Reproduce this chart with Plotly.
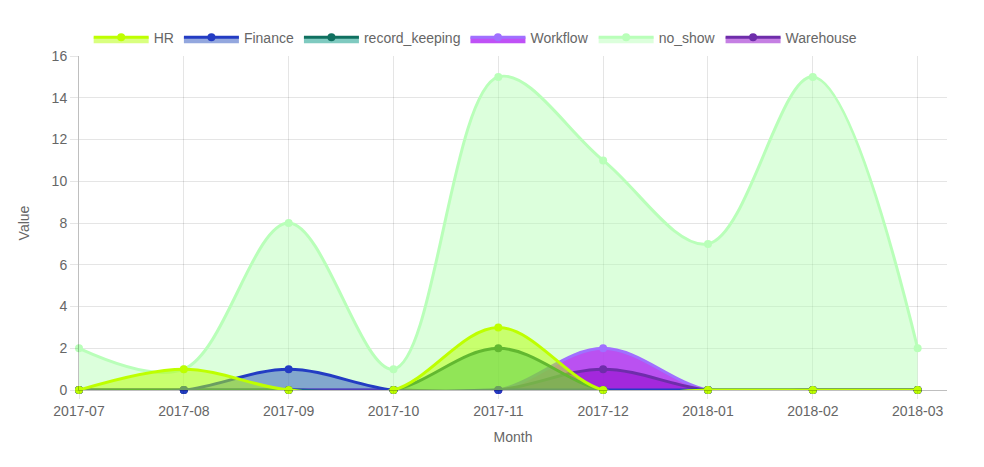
import plotly.graph_objects as go

months = ["2017-07", "2017-08", "2017-09", "2017-10", "2017-11", "2017-12", "2018-01", "2018-02", "2018-03"]
hr = [0, 1, 0, 0, 3, 0, 0, 0, 0]
finance = [0, 0, 1, 0, 0, 0, 0, 0, 0]
record_keeping = [0, 0, 0, 0, 2, 0, 0, 0, 0]
workflow = [0, 0, 0, 0, 0, 2, 0, 0, 0]
no_show = [2, 1, 8, 1, 15, 11, 7, 15, 2]
warehouse = [0, 0, 0, 0, 0, 1, 0, 0, 0]

# (name, values, line colour, fill colour, legend rank)
series = [
    ("no_show", no_show, "rgb(185,255,185)", "rgba(180,255,180,0.47)", 5),
    ("Workflow", workflow, "rgb(160,112,255)", "rgba(180,50,245,0.85)", 4),
    ("Warehouse", warehouse, "rgb(110,45,170)", "rgba(140,0,200,0.5)", 6),
    ("record_keeping", record_keeping, "rgb(16,112,96)", "rgba(0,150,130,0.5)", 3),
    ("Finance", finance, "rgb(35,60,195)", "rgba(40,80,190,0.5)", 2),
    ("HR", hr, "rgb(190,255,0)", "rgba(180,255,0,0.5)", 1),
]

fig = go.Figure()
for name, vals, lc, fc, rank in series:
    fig.add_trace(go.Scatter(
        x=months, y=vals, name=name, mode="lines+markers",
        line=dict(color=lc, width=3, shape="spline", smoothing=1.0),
        marker=dict(color=lc, size=8),
        fill="tozeroy", fillcolor=fc, cliponaxis=False,
        legendrank=rank,
    ))

font = dict(family="Liberation Sans, Arial, sans-serif", size=14, color="#666")
fig.update_layout(
    width=984, height=467,
    margin=dict(l=79, r=37, t=56, b=77),
    paper_bgcolor="white", plot_bgcolor="white",
    font=font,
    showlegend=True,
    legend=dict(orientation="h", x=0.457, xanchor="center", y=1.055, yanchor="middle",
                itemwidth=55, font=dict(size=14, color="#666"), traceorder="normal"),
    xaxis=dict(
        type="category", range=[0, 8.28],
        showgrid=True, gridcolor="rgba(0,0,0,0.1)", gridwidth=1,
        ticks="outside", ticklen=8, tickcolor="rgba(0,0,0,0.1)",
        showline=True, linecolor="rgba(0,0,0,0.25)",
        tickfont=dict(size=14, color="#666"),
        title=dict(text="Month", standoff=14, font=dict(size=14, color="#666")),
        zeroline=False,
    ),
    yaxis=dict(
        range=[0, 16], dtick=2,
        showgrid=True, gridcolor="rgba(0,0,0,0.1)", gridwidth=1,
        ticks="outside", ticklen=8, tickcolor="rgba(0,0,0,0.1)",
        showline=True, linecolor="rgba(0,0,0,0.25)",
        tickfont=dict(size=14, color="#666"),
        title=dict(text="Value", standoff=18, font=dict(size=14, color="#666")),
        zeroline=False,
    ),
)

fig.write_html("out.html")
